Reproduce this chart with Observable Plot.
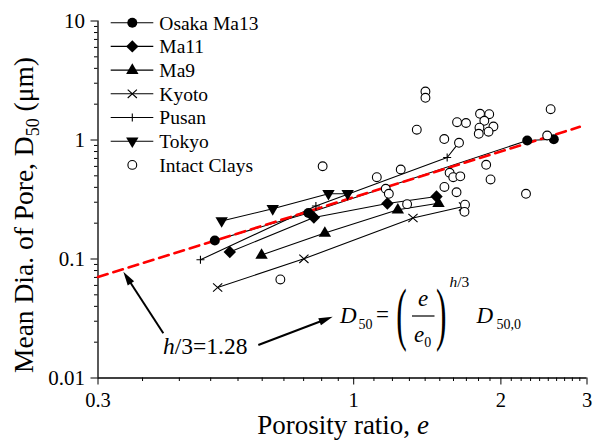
<!DOCTYPE html>
<html><head><meta charset="utf-8">
<script src="https://cdn.jsdelivr.net/npm/d3@7"></script>
<script src="https://cdn.jsdelivr.net/npm/@observablehq/plot@0.6"></script>
<style>html,body{margin:0;padding:0;background:#fff;}</style>
</head><body><div id="chart"></div>
<script>
// ---------------- data (porosity ratio e, mean pore diameter D50 in µm) ----------------
const osakaE = [0.520, 0.808, 2.264, 2.566];
const osakaD = [0.143, 0.2435, 0.990, 1.016];
const ma11E  = [0.558, 0.829, 1.172, 1.477];
const ma11D  = [0.1145, 0.2233, 0.2927, 0.335];
const ma9E   = [0.648, 0.873, 1.231, 1.491];
const ma9D   = [0.108, 0.1654, 0.259, 0.2944];
const kyotoE = [0.527, 0.791, 1.322, 1.677];
const kyotoD = [0.0576, 0.1004, 0.2211, 0.276];
const pusanE = [0.486, 0.837, 1.553, 1.640];
const pusanD = [0.0985, 0.279, 0.713, 0.947];
const tokyoE = [0.537, 0.683, 0.888, 0.972];
const tokyoD = [0.2087, 0.264, 0.353, 0.353];
const intactE = [1.402, 1.402, 1.813, 1.893, 2.528, 1.627, 1.697, 1.850, 1.808, 1.931, 1.802,
                 1.887, 1.346, 1.532, 1.642, 2.487, 0.864, 1.115, 1.248, 1.571, 1.598, 1.652,
                 1.866, 1.905, 1.533, 1.623, 2.251, 1.163, 1.180, 1.286, 1.689, 1.685, 0.708];
const intactD = [2.556, 2.263, 1.661, 1.648, 1.815, 1.411, 1.390, 1.450, 1.269, 1.299, 1.127,
                 1.174, 1.221, 1.019, 0.947, 1.091, 0.602, 0.487, 0.565, 0.530, 0.487, 0.495,
                 0.619, 0.466, 0.403, 0.364, 0.353, 0.389, 0.353, 0.289, 0.286, 0.249, 0.0673];
// fitted line D50 = (e/e0)^(h/3) D50,0 with h/3 = 1.28
const fitE = [0.3, 2.9];
const fitD = [0.0706, 1.29];
// annotation arrows (data coordinates)
const arrowFromE = [0.409, 0.6397];
const arrowFromD = [0.02351, 0.01875];
const arrowToE   = [0.3388, 0.908];
const arrowToD   = [0.0775, 0.0324];
// ticks
const xMajor = [0.3, 1, 2, 3];
const xMinor = [0.37, 0.44, 0.51, 0.58, 0.65, 0.72, 0.79, 0.86, 0.93,
                1.1, 1.2, 1.3, 1.4, 1.5, 1.6, 1.7, 1.8, 1.9,
                2.1, 2.2, 2.3, 2.4, 2.5, 2.6, 2.7, 2.8, 2.9];
const yMajor = [0.01, 0.1, 1, 10];
const yMinor = [0.02, 0.03, 0.04, 0.05, 0.06, 0.07, 0.08, 0.09,
                0.2, 0.3, 0.4, 0.5, 0.6, 0.7, 0.8, 0.9,
                2, 3, 4, 5, 6, 7, 8, 9];
const seriesNames = ["Osaka Ma13", "Ma11", "Ma9", "Kyoto", "Pusan", "Tokyo", "Intact Clays"];

// ---------------- symbols ----------------
const symCircle  = {draw(c){ c.moveTo(5, 0); c.arc(0, 0, 5, 0, 2 * Math.PI); }};
const symDiamond = {draw(c){ c.moveTo(0, -6.2); c.lineTo(6.2, 0); c.lineTo(0, 6.2); c.lineTo(-6.2, 0); c.closePath(); }};
const symTriUp   = {draw(c){ c.moveTo(0, -6.8); c.lineTo(6.2, 3.8); c.lineTo(-6.2, 3.8); c.closePath(); }};
const symTriDown = {draw(c){ c.moveTo(0, 6.8); c.lineTo(6.2, -3.8); c.lineTo(-6.2, -3.8); c.closePath(); }};
const symTimes   = {draw(c){ c.moveTo(-4.6, -4.2); c.lineTo(4.6, 4.2); c.moveTo(4.6, -4.2); c.lineTo(-4.6, 4.2); }};
const symPlus    = {draw(c){ c.moveTo(-4, 0); c.lineTo(4, 0); c.moveTo(0, -4); c.lineTo(0, 4); }};
const symOpen    = {draw(c){ c.moveTo(4.4, 0); c.arc(0, 0, 4.4, 0, 2 * Math.PI); }};

const series = [
  {name: seriesNames[0], E: osakaE, D: osakaD, sym: symCircle,  filled: true},
  {name: seriesNames[1], E: ma11E,  D: ma11D,  sym: symDiamond, filled: true},
  {name: seriesNames[2], E: ma9E,   D: ma9D,   sym: symTriUp,   filled: true},
  {name: seriesNames[3], E: kyotoE, D: kyotoD, sym: symTimes,   filled: false},
  {name: seriesNames[4], E: pusanE, D: pusanD, sym: symPlus,    filled: false},
  {name: seriesNames[5], E: tokyoE, D: tokyoD, sym: symTriDown, filled: true}
];
const rows = s => s.E.map((e, i) => ({e, d: s.D[i]}));
const intact = intactE.map((e, i) => ({e, d: intactD[i]}));
const fit = fitE.map((e, i) => ({e, d: fitD[i]}));

const SERIF = "'Liberation Serif','Times New Roman',Times,serif";

function dotOpts(s) {
  return s.filled
    ? {x: "e", y: "d", symbol: s.sym, fill: "black", stroke: "none"}
    : {x: "e", y: "d", symbol: s.sym, fill: "none", stroke: "black", strokeWidth: 1.1};
}

// ---------------- annotation / legend / labels ----------------
function decorations(index, scales) {
  const sx = scales.x, sy = scales.y;
  const g = d3.create("svg:g").attr("font-family", SERIF).attr("fill", "black").attr("text-anchor", "start");

  // arrows
  for (let i = 0; i < arrowFromE.length; i++) {
    const x1 = sx(arrowFromE[i]), y1 = sy(arrowFromD[i]);
    const x2 = sx(arrowToE[i]), y2 = sy(arrowToD[i]);
    const len = Math.hypot(x2 - x1, y2 - y1), ux = (x2 - x1) / len, uy = (y2 - y1) / len;
    const L = 14, w = 3.8, bx = x2 - ux * L, by = y2 - uy * L, nx = -uy, ny = ux;
    g.append("line").attr("x1", x1).attr("y1", y1).attr("x2", bx + ux * 2).attr("y2", by + uy * 2)
      .attr("stroke", "black").attr("stroke-width", 2);
    g.append("path").attr("d", `M${x2},${y2}L${bx + nx * w},${by + ny * w}L${bx - nx * w},${by - ny * w}Z`)
      .attr("fill", "black");
  }

  // h/3 = 1.28
  const t1 = g.append("text").attr("x", 163).attr("y", 354).attr("font-size", 23.5);
  t1.append("tspan").attr("font-style", "italic").text("h");
  t1.append("tspan").text("/3=1.28");

  // equation
  const eq = g.append("g").attr("font-size", 23);
  const txt = (x, y, s, size, italic) => eq.append("text").attr("x", x).attr("y", y)
      .attr("font-size", size).attr("font-style", italic ? "italic" : "normal").text(s);
  txt(340, 322.5, "D", 23, true);
  txt(358.5, 328.5, "50", 14, false);
  txt(376, 322, "=", 23, false);
  eq.append("text").attr("transform", "translate(396.2,336.5) scale(0.45,1)").attr("font-size", 70).text("(");
  txt(418, 306, "e", 23, true);
  eq.append("line").attr("x1", 412).attr("x2", 434.5).attr("y1", 316).attr("y2", 316)
    .attr("stroke", "black").attr("stroke-width", 1.2);
  txt(414, 341.5, "e", 23, true);
  txt(424.3, 346.5, "0", 14, false);
  eq.append("text").attr("transform", "translate(436,336.5) scale(0.45,1)").attr("font-size", 70).text(")");
  const sup = eq.append("text").attr("x", 449.5).attr("y", 287).attr("font-size", 15.5);
  sup.append("tspan").attr("font-style", "italic").text("h");
  sup.append("tspan").text("/3");
  txt(476.5, 322.5, "D", 23, true);
  txt(496.5, 328.5, "50,0", 14, false);

  // legend
  const legendSyms = [symCircle, symDiamond, symTriUp, symTimes, symPlus, symTriDown, symOpen];
  const legendFilled = [true, true, true, false, false, true, false];
  for (let i = 0; i < seriesNames.length; i++) {
    const cy = 22.7 + i * 23.7;
    if (i < 6) g.append("line").attr("x1", 110.7).attr("x2", 153.3).attr("y1", cy).attr("y2", cy)
      .attr("stroke", "black").attr("stroke-width", 1.1);
    const p = g.append("path").attr("d", d3.symbol(legendSyms[i])()).attr("transform", `translate(132.3,${cy})`);
    if (legendFilled[i]) p.attr("fill", "black");
    else p.attr("fill", i === 6 ? "white" : "none").attr("stroke", "black").attr("stroke-width", 1.1);
    g.append("text").attr("x", 159.3).attr("y", cy).attr("dy", "0.35em").attr("font-size", 19.5).text(seriesNames[i]);
  }

  // axis labels
  const yl = g.append("text").attr("transform", "translate(33.3,215) rotate(-90)")
    .attr("text-anchor", "middle").attr("font-size", 27.5);
  yl.append("tspan").text("Mean Dia. of Pore, D");
  yl.append("tspan").attr("font-size", 18).attr("dy", 6).text("50");
  yl.append("tspan").attr("dy", -6).text(" (\u03bcm)");
  const xl = g.append("text").attr("x", 343).attr("y", 434).attr("text-anchor", "middle").attr("font-size", 27);
  xl.append("tspan").text("Porosity ratio, ");
  xl.append("tspan").attr("font-style", "italic").text("e");
  return g.node();
}

const marks = [
  Plot.axisY(yMinor, {tickSize: 3.5, tickFormat: () => "", label: null}),
  Plot.axisY(yMajor, {tickSize: 7, tickPadding: 6, tickFormat: d => String(d), label: null}),
  Plot.axisX(xMinor, {tickSize: 3.5, tickFormat: () => "", label: null}),
  Plot.axisX(xMajor, {tickSize: 7, tickPadding: 7, fontSize: 20.5, tickFormat: d => String(d), label: null}),
  Plot.ruleX([0.3], {strokeWidth: 1.3}),
  Plot.ruleY([0.01], {strokeWidth: 1.3}),
  ...series.map(s => Plot.line(rows(s), {x: "e", y: "d", stroke: "black", strokeWidth: 1.1})),
  Plot.line(fit, {x: "e", y: "d", stroke: "#ff0000", strokeWidth: 2.6, strokeDasharray: "10,6"}),
  ...series.map(s => Plot.dot(rows(s), dotOpts(s))),
  Plot.dot(intact, {x: "e", y: "d", symbol: symOpen, fill: "white", stroke: "black", strokeWidth: 1.1}),
  decorations
];

const chart = Plot.plot({
  width: 594, height: 440,
  marginLeft: 97.5, marginRight: 7.5, marginTop: 20.5, marginBottom: 62.5,
  style: {fontFamily: SERIF, fontSize: "21px", background: "white", color: "black", overflow: "visible"},
  x: {type: "log", domain: [0.3, 3]},
  y: {type: "log", domain: [0.01, 10]},
  marks
});
document.getElementById("chart").appendChild(chart);
</script>
</body></html>
